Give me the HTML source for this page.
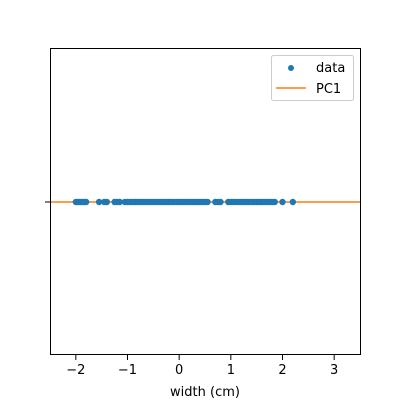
<!DOCTYPE html>
<html><head><meta charset="utf-8"><style>
body{margin:0;background:#fff;}
text{font-family:"DejaVu Sans","Liberation Sans",sans-serif;font-size:13px;fill:#000}
</style></head><body>
<svg id="chart" width="400" height="400">
<rect x="0" y="0" width="400" height="400" fill="#fff"/>
<g id="ticks"></g>
<line id="pc1" x1="50" x2="360" y1="202" y2="202" stroke="#ff7f0e" stroke-width="1.5"/>
<g id="points"></g>
<rect x="50.5" y="48.5" width="310" height="306" fill="none" stroke="#000" stroke-width="1"/>
<line x1="45" x2="50" y1="202" y2="202" stroke="#000"/>
<text x="205" y="396" text-anchor="middle">width (cm)</text>
<g>
<rect x="271.5" y="55.5" width="82" height="45" rx="2" fill="#fff" stroke="#ccc"/>
<circle cx="291" cy="68" r="3" fill="#1f77b4"/>
<text x="316" y="72">data</text>
<line x1="276" x2="306" y1="88" y2="88" stroke="#ff7f0e" stroke-width="1.5"/>
<text x="316" y="93">PC1</text>
</g>
</svg>
<script>
const xTicks=[-2,-1,0,1,2,3];
const xTickLabels=["−2","−1","0","1","2","3"];
const values=[-2.0,-1.96,-1.92,-1.88,-1.84,-1.8,-1.55,-1.45,-1.4,-1.25,-1.2,-1.15,-1.05,-1.0,-0.95,-0.9,-0.85,-0.8,-0.75,-0.7,-0.65,-0.6,-0.55,-0.5,-0.45,-0.4,-0.35,-0.3,-0.25,-0.2,-0.15,-0.1,-0.05,0.0,0.05,0.1,0.15,0.2,0.25,0.3,0.35,0.4,0.45,0.5,0.55,0.7,0.75,0.8,0.95,1.0,1.05,1.1,1.15,1.2,1.25,1.3,1.35,1.4,1.45,1.5,1.55,1.6,1.65,1.7,1.75,1.8,1.85,2.0,2.2];
const x0=-2.5,x1=3.5,L=50,R=360,Y=202;
const sx=v=>L+(v-x0)/(x1-x0)*(R-L);
const ns="http://www.w3.org/2000/svg";
const tg=document.getElementById('ticks');
xTicks.forEach((t,i)=>{
 const l=document.createElementNS(ns,'line');
 
 
 l.setAttribute('x1',sx(t));l.setAttribute('x2',sx(t));l.setAttribute('y1',355);l.setAttribute('y2',360);l.setAttribute('stroke','#000');
 tg.appendChild(l);
 const tx=document.createElementNS(ns,'text');
 
 
 tx.setAttribute('x',sx(t));tx.setAttribute('y',374);tx.setAttribute('text-anchor','middle');
 tx.textContent=xTickLabels[i];tg.appendChild(tx);
});
const pg=document.getElementById('points');
values.forEach(v=>{
 const c=document.createElementNS(ns,'circle');
 
 
 c.setAttribute('cx',sx(v));c.setAttribute('cy',Y);c.setAttribute('r',3.2);c.setAttribute('fill','#1f77b4');
 pg.appendChild(c);
});
</script>
</body></html>
